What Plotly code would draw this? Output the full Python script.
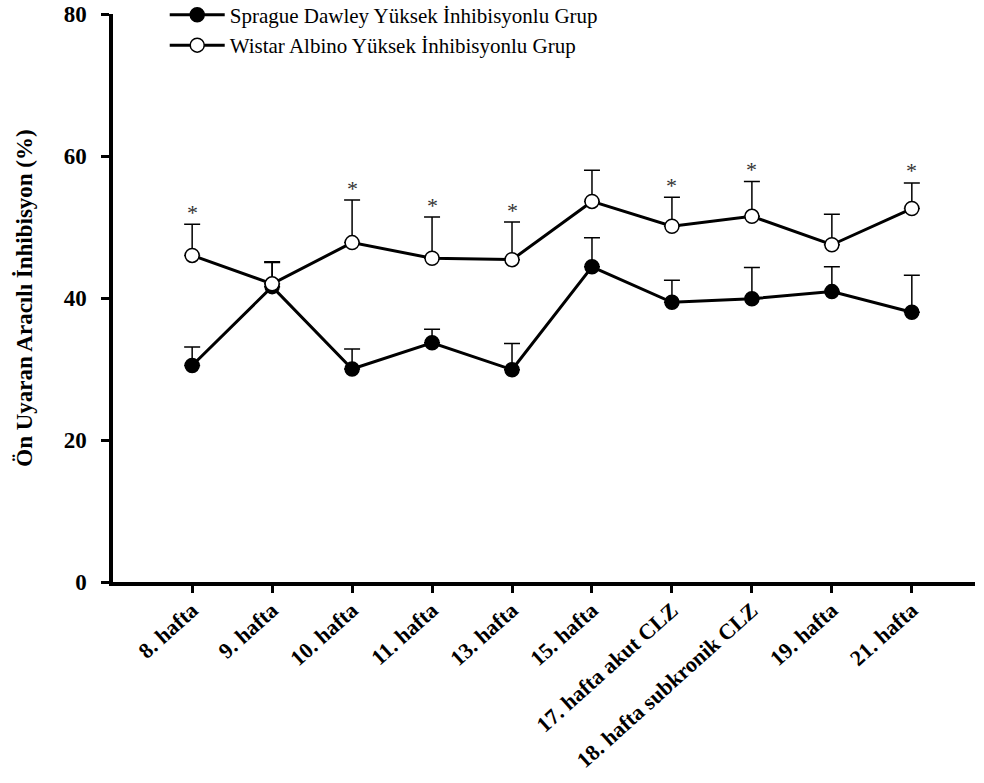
import plotly.graph_objects as go

# Weeks on the x axis
weeks = ["8. hafta", "9. hafta", "10. hafta", "11. hafta", "13. hafta",
         "15. hafta", "17. hafta akut CLZ", "18. hafta subkronik CLZ",
         "19. hafta", "21. hafta"]

# Prepulse inhibition (%) means and SEM for each group
sd_mean = [30.5, 41.6, 30.0, 33.7, 29.9, 44.4, 39.4, 39.9, 40.9, 38.0]
sd_sem = [2.6, 3.4, 2.8, 1.9, 3.7, 4.1, 3.1, 4.4, 3.5, 5.2]
wa_mean = [46.0, 42.0, 47.8, 45.6, 45.4, 53.6, 50.1, 51.5, 47.5, 52.6]
wa_sem = [4.4, 3.1, 6.0, 5.8, 5.3, 4.4, 4.1, 4.9, 4.3, 3.6]

# Significant differences between groups (marked with *)
significant = [True, False, True, True, True, False, True, True, False, True]

y_ticks = [0, 20, 40, 60, 80]

FONT = "Times New Roman, Liberation Serif, serif"
xs = list(range(len(weeks)))

fig = go.Figure()

fig.add_trace(go.Scatter(
    x=xs, y=sd_mean, mode="lines+markers",
    name="Sprague Dawley Yüksek İnhibisyonlu Grup",
    line=dict(color="black", width=3),
    marker=dict(symbol="circle", size=14, color="black",
                line=dict(color="black", width=1.5)),
    error_y=dict(type="data", symmetric=False, array=sd_sem,
                 arrayminus=[0] * len(sd_sem), color="black",
                 thickness=1.5, width=8),
))

fig.add_trace(go.Scatter(
    x=xs, y=wa_mean, mode="lines+markers",
    name="Wistar Albino Yüksek İnhibisyonlu Grup",
    line=dict(color="black", width=3),
    marker=dict(symbol="circle", size=14, color="white",
                line=dict(color="black", width=1.5)),
    error_y=dict(type="data", symmetric=False, array=wa_sem,
                 arrayminus=[0] * len(wa_sem), color="black",
                 thickness=1.5, width=8),
))

# Asterisks above the upper error bars of the significant weeks
for x, m, s, sig in zip(xs, wa_mean, wa_sem, significant):
    if sig:
        fig.add_annotation(
            x=x, y=m + s, text="*", showarrow=False, yshift=12,
            font=dict(family=FONT, size=22, color="#333333"),
        )

fig.update_layout(
    width=984, height=783,
    margin=dict(l=113, r=9, t=14, b=201, autoexpand=False),
    plot_bgcolor="white", paper_bgcolor="white",
    font=dict(family=FONT, color="black"),
    showlegend=True,
    legend=dict(
        x=0.06, y=1.034, xanchor="left", yanchor="top",
        font=dict(family=FONT, size=21, color="black"),
        bgcolor="rgba(0,0,0,0)", itemwidth=55,
    ),
    xaxis=dict(
        range=[-0.99, 9.79], tickmode="array", tickvals=xs, ticktext=weeks,
        tickangle=-42, showgrid=False, zeroline=False, automargin=False,
        showline=True, linecolor="black", linewidth=3.5,
        ticks="outside", ticklen=7, tickwidth=3, tickcolor="black",
        ticklabelstandoff=-4,
        tickfont=dict(family=FONT, size=22, color="black", weight="bold"),
    ),
    yaxis=dict(
        range=[0, 80], tickmode="array", tickvals=y_ticks,
        showgrid=False, zeroline=False, automargin=False,
        showline=True, linecolor="black", linewidth=3.5,
        ticks="outside", ticklen=8, tickwidth=3, tickcolor="black",
        ticklabelstandoff=10,
        tickfont=dict(family=FONT, size=23, color="black", weight="bold"),
        title=dict(text="Ön Uyaran Aracılı İnhibisyon (%)", standoff=26,
                   font=dict(family=FONT, size=23, color="black",
                             weight="bold")),
    ),
)

fig.write_html("out.html")
